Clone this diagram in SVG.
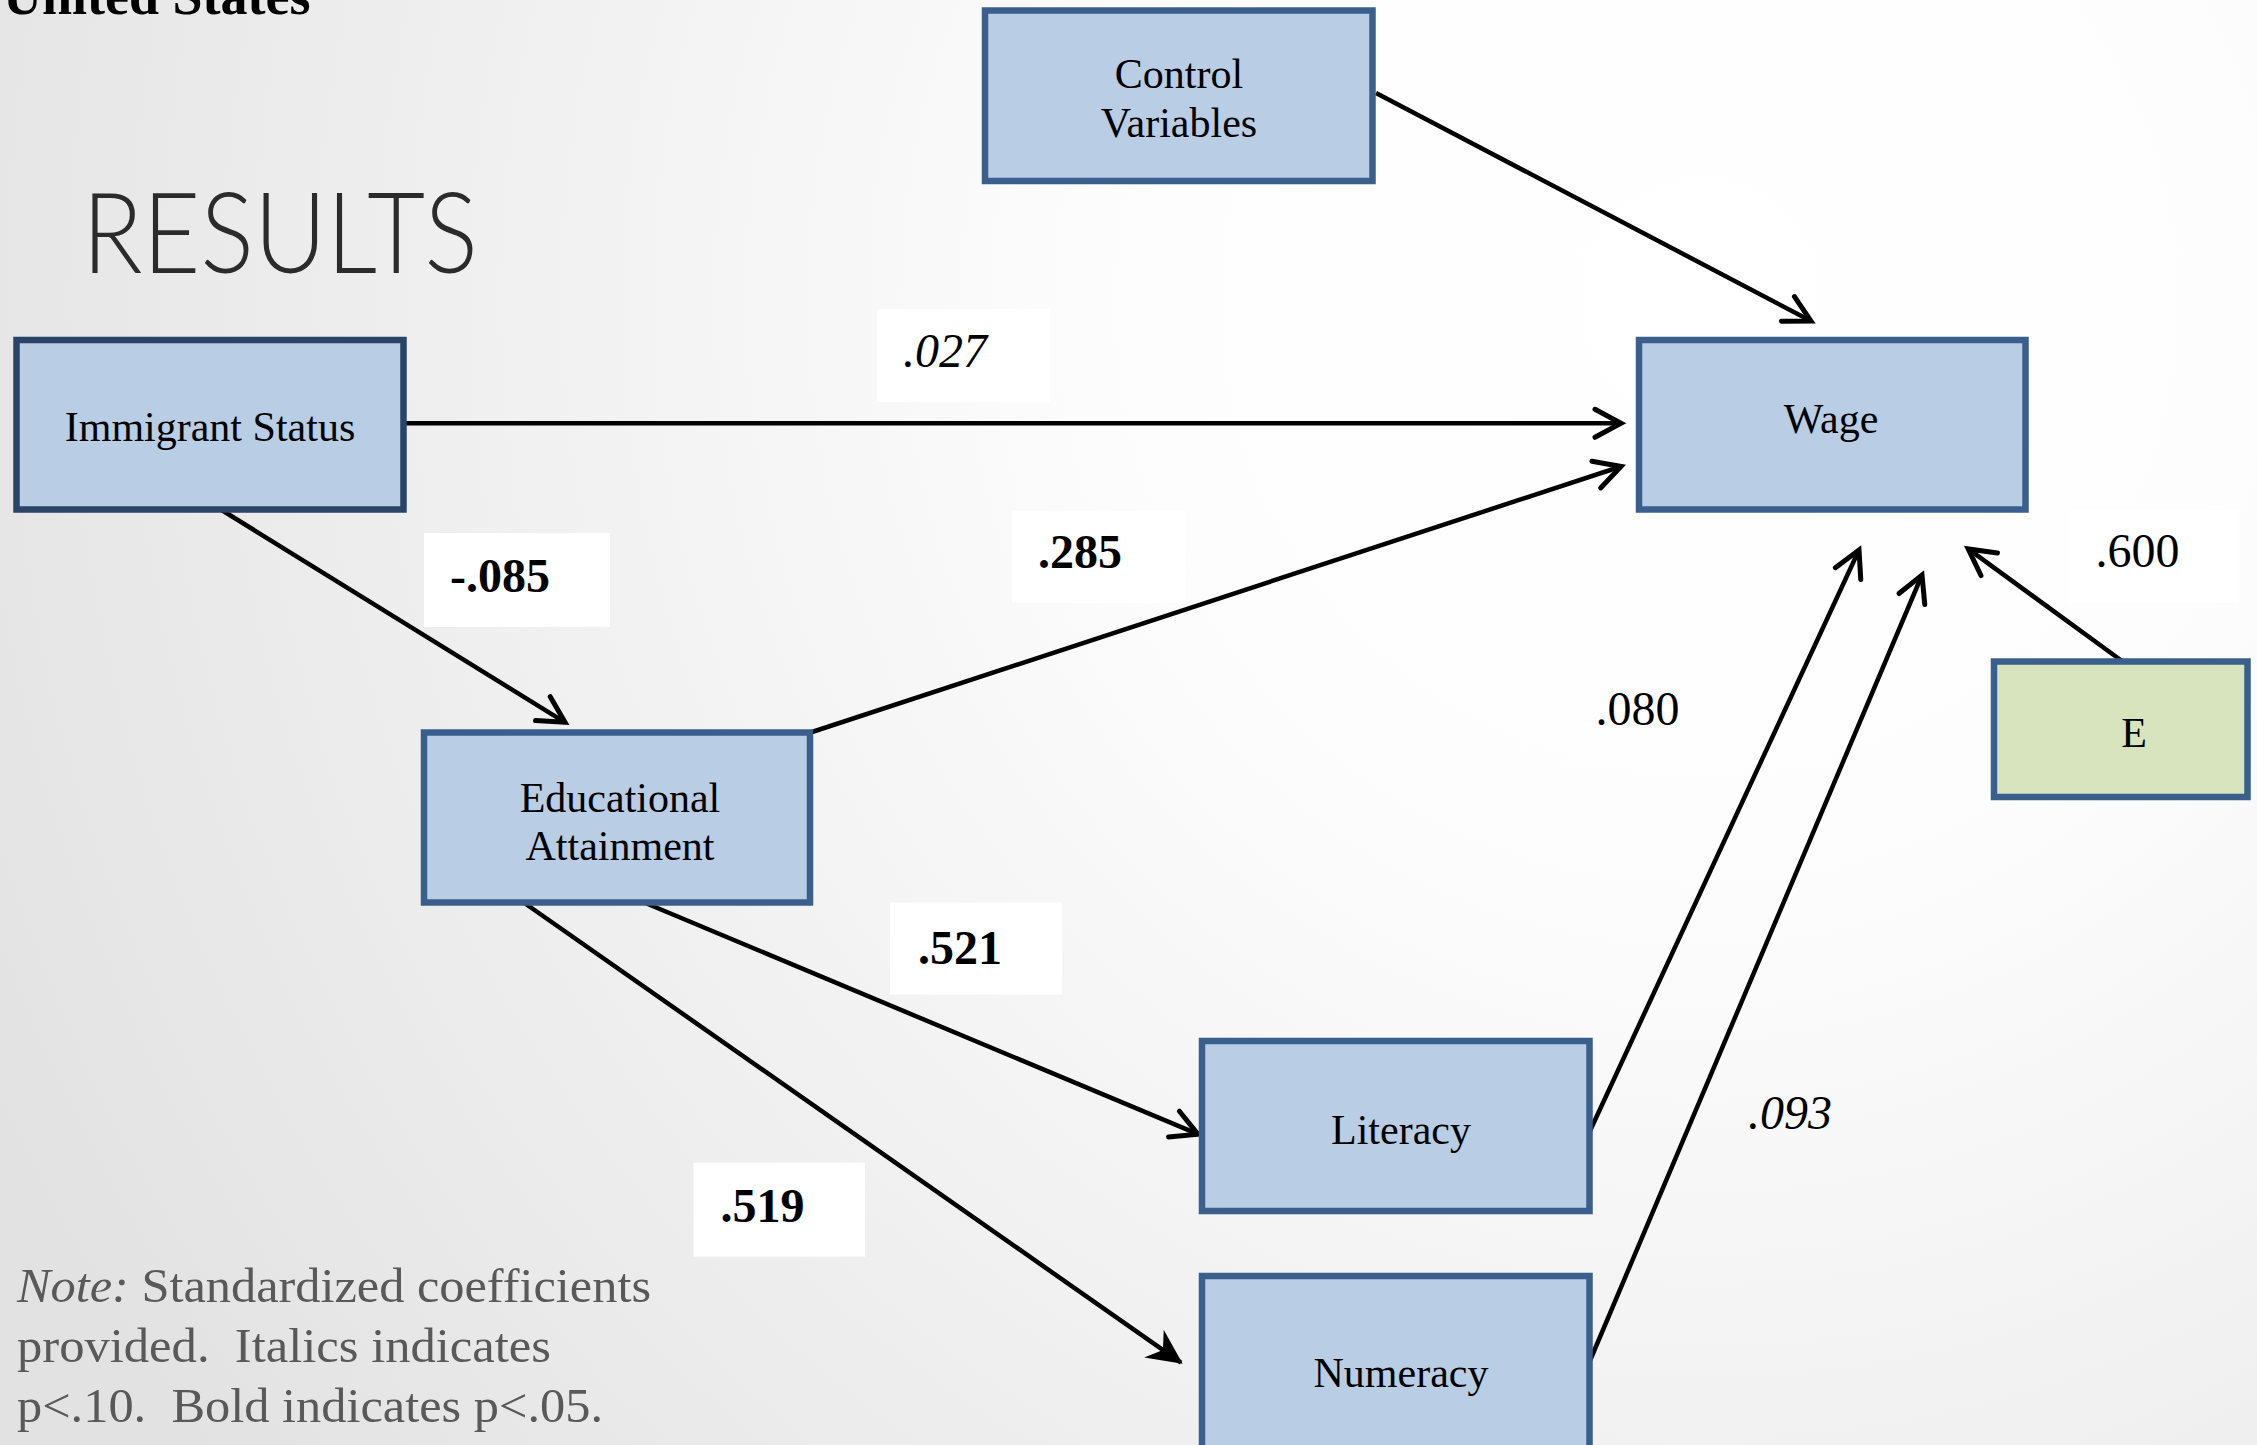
<svg xmlns="http://www.w3.org/2000/svg" width="2257" height="1445" viewBox="0 0 2257 1445">
  <defs>
    <radialGradient id="bg" cx="1700" cy="300" r="1900" gradientUnits="userSpaceOnUse">
      <stop offset="0" stop-color="#ffffff"/>
      <stop offset="0.3" stop-color="#fdfdfd"/>
      <stop offset="1" stop-color="#e2e2e2"/>
    </radialGradient>
    <marker id="open" markerUnits="userSpaceOnUse" markerWidth="80" markerHeight="80" refX="0" refY="0" orient="auto" overflow="visible">
      <path d="M-26,-14 L0,0 L-26,14" fill="none" stroke="#000" stroke-width="5" stroke-linecap="round" stroke-linejoin="miter"/>
    </marker>
    <marker id="stealth" markerUnits="userSpaceOnUse" markerWidth="80" markerHeight="80" refX="0" refY="0" orient="auto" overflow="visible">
      <path d="M2,0 L-33,-17 L-22,0 L-33,17 Z" fill="#000"/>
    </marker>
  </defs>
  <style>
    .node rect { fill: #b9cde5; stroke: #3a5f8c; stroke-width: 6.5; }
    .node.dark rect { stroke: #2a4466; }
    .node.green rect { fill: #d7e4bd; }
    .nt { font-family: "Liberation Serif", "Times New Roman", serif; font-size: 42px; fill: #000; text-anchor: middle; }
    .conn line { stroke: #000; stroke-width: 4.5; fill: none; }
    .lbl rect { fill: #ffffff; }
    .lt { font-family: "Liberation Serif", "Times New Roman", serif; font-size: 48px; fill: #000; }
    .b { font-weight: bold; }
    .i { font-style: italic; }
    .note { font-family: "Liberation Serif", "Times New Roman", serif; font-size: 49px; fill: #595959; white-space: pre; }
  </style>

  <rect x="0" y="0" width="2257" height="1445" fill="url(#bg)"/>

  <text x="3" y="14" font-family="Liberation Serif, Times New Roman, serif" font-size="54" font-weight="bold" fill="#000">United States</text>
  <text x="82" y="273" font-family="Lato, 'Open Sans', 'Liberation Sans', sans-serif" font-size="113" font-weight="300" fill="#2b2b2b" textLength="396" lengthAdjust="spacingAndGlyphs">RESULTS</text>

  <g id="connectors" class="conn">
    <line x1="1376" y1="93" x2="1811" y2="321" marker-end="url(#open)"/>
    <line x1="406" y1="423.3" x2="1621" y2="423.3" marker-end="url(#open)"/>
    <line x1="220" y1="509" x2="565" y2="722.3" marker-end="url(#open)"/>
    <line x1="812" y1="732" x2="1621" y2="466.5" marker-end="url(#open)"/>
    <line x1="643" y1="902" x2="1198" y2="1134.2" marker-end="url(#open)"/>
    <line x1="523" y1="902" x2="1181" y2="1362.6" marker-end="url(#stealth)"/>
    <line x1="1589" y1="1133" x2="1859" y2="550" marker-end="url(#open)"/>
    <line x1="1589" y1="1363" x2="1922" y2="575" marker-end="url(#open)"/>
    <line x1="2121.6" y1="660.7" x2="1968.2" y2="548.9" marker-end="url(#open)"/>
  </g>

  <g id="node-control" class="node">
    <rect x="985" y="10.5" width="387.5" height="170.5"/>
    <text class="nt" x="1179" y="88.3">Control</text>
    <text class="nt" x="1179" y="136.7">Variables</text>
  </g>
  <g id="node-immigrant" class="node dark">
    <rect x="16.5" y="340" width="387" height="169.5"/>
    <text class="nt" x="210" y="440.7">Immigrant Status</text>
  </g>
  <g id="node-wage" class="node">
    <rect x="1639" y="340" width="386.5" height="169.5"/>
    <text class="nt" x="1831" y="433.3">Wage</text>
  </g>
  <g id="node-education" class="node">
    <rect x="424" y="732.5" width="386" height="170"/>
    <text class="nt" x="620" y="811.7">Educational</text>
    <text class="nt" x="620" y="860">Attainment</text>
  </g>
  <g id="node-e" class="node green">
    <rect x="1994" y="661.5" width="253.5" height="135.5"/>
    <text class="nt" x="2134" y="747.3">E</text>
  </g>
  <g id="node-literacy" class="node">
    <rect x="1202" y="1041" width="387.5" height="170"/>
    <text class="nt" x="1401" y="1144">Literacy</text>
  </g>
  <g id="node-numeracy" class="node">
    <rect x="1202" y="1276" width="387.5" height="180"/>
    <text class="nt" x="1401" y="1387">Numeracy</text>
  </g>

  <g id="labels" class="lbl">
    <rect x="877" y="309" width="173" height="93"/>
    <text class="lt i" x="903" y="367">.027</text>
    <rect x="1012" y="511" width="173" height="92"/>
    <text class="lt b" x="1038" y="568">.285</text>
    <rect x="424" y="533" width="186" height="94"/>
    <text class="lt b" x="450" y="592">-.085</text>
    <rect x="890" y="902.5" width="172" height="92"/>
    <text class="lt b" x="918" y="964">.521</text>
    <rect x="693.5" y="1162.7" width="171.5" height="94"/>
    <text class="lt b" x="720.4" y="1221.7">.519</text>
    <rect x="2068" y="510" width="171" height="93"/>
    <text class="lt" x="2095.6" y="566.7">.600</text>
    <text class="lt" x="1595.6" y="725">.080</text>
    <text class="lt i" x="1748" y="1129">.093</text>
  </g>

  <g id="note">
    <text class="note" x="17" y="1301.7" textLength="634" lengthAdjust="spacingAndGlyphs"><tspan font-style="italic">Note:</tspan> Standardized coefficients</text>
    <text class="note" x="17" y="1361.7" textLength="534" lengthAdjust="spacingAndGlyphs">provided.  Italics indicates</text>
    <text class="note" x="17" y="1421.7" textLength="586" lengthAdjust="spacingAndGlyphs">p&lt;.10.  Bold indicates p&lt;.05.</text>
  </g>
</svg>
